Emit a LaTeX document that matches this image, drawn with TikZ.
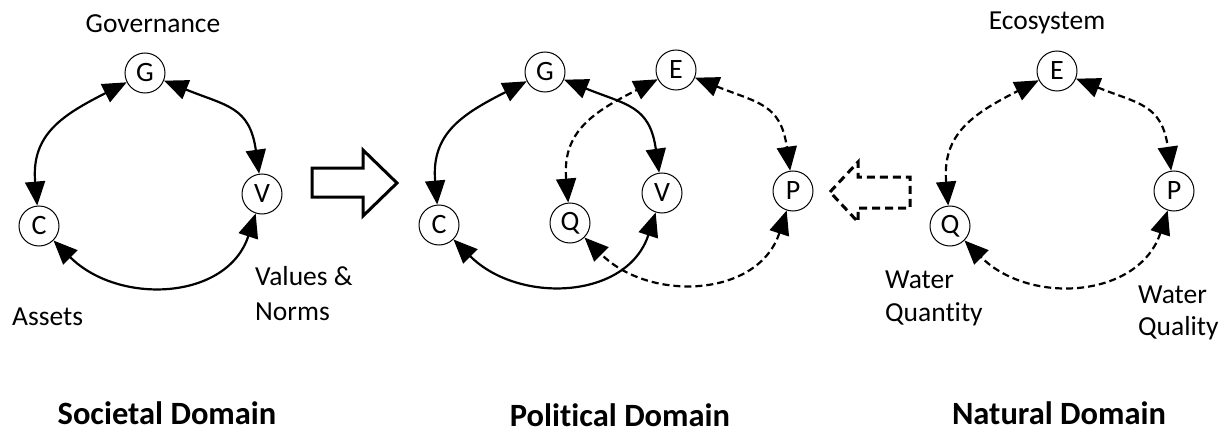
\documentclass[tikz,border=0pt]{standalone}
\usepackage{fontspec}
\setmainfont{Carlito}[Ligatures=NoCommon]
\usetikzlibrary{arrows.meta}
\begin{document}
\begin{tikzpicture}[x=1pt,y=1pt,
  every node/.style={font=\fontsize{27.5}{34}\selectfont},
  var/.style={circle,draw,line width=1pt,minimum size=40pt,inner sep=0pt,fill=white,font=\fontsize{28}{33}\selectfont},
  link/.style={{Triangle[length=24pt,width=20pt]}-{Triangle[length=24pt,width=20pt]},line width=2.2pt},
  dlink/.style={link,dash pattern=on 7pt off 4pt},
  gv/.style={out=-22,in=98,looseness=1.3},
  vc/.style={out=-108,in=-45,looseness=1.15},
  cg/.style={out=95,in=207,looseness=1.2},
  lbl/.style={align=left,anchor=base west,inner sep=0pt},
  title/.style={font=\bfseries\fontsize{32.5}{38}\selectfont,anchor=base,inner sep=0pt},
  blockarrow/.style={draw,line width=3pt,fill=white,line join=miter}]
\useasboundingbox (0,0) rectangle (1228,432);

% Societal domain
\node[var] (G1) at (145,359) {G};
\node[var] (V1) at (262,238) {V};
\node[var] (C1) at (39,206) {C};
\draw[link] (G1) to[gv] (V1);
\draw[link] (V1) to[vc] (C1);
\draw[link] (C1) to[cg] (G1);
\node[anchor=base,inner sep=0pt] (gov) at (153,399) {Governance};
\node[lbl,font=\fontsize{27.5}{35}\selectfont] (vn) at (255,112) {Values \&\\Norms};
\node[lbl] (as) at (12,107) {Assets};

% Political domain
\node[var] (G2) at (545,360) {G};
\node[var] (V2) at (662,239) {V};
\node[var] (C2) at (439,207) {C};
\node[var] (E2) at (676,362) {E};
\node[var] (P2) at (793,241) {P};
\node[var] (Q2) at (570,209) {Q};
\draw[link] (G2) to[gv] (V2);
\draw[link] (V2) to[vc] (C2);
\draw[link] (C2) to[cg] (G2);
\draw[dlink] (E2) to[gv] (P2);
\draw[dlink] (P2) to[vc] (Q2);
\draw[dlink] (Q2) to[cg] (E2);

% Natural domain
\node[var] (E3) at (1057,361) {E};
\node[var] (P3) at (1174,241) {P};
\node[var] (Q3) at (950,206) {Q};
\draw[dlink] (E3) to[gv] (P3);
\draw[dlink] (P3) to[vc] (Q3);
\draw[dlink] (Q3) to[cg] (E3);
\node[anchor=base,inner sep=0pt] (eco) at (1047,402) {Ecosystem};
\node[lbl,font=\fontsize{27.5}{33}\selectfont] (wqn) at (885,111) {Water\\Quantity};
\node[lbl,font=\fontsize{27.5}{32}\selectfont] (wql) at (1138,97) {Water\\Quality};

% Block arrows
\draw[blockarrow] (312,264) -- (363,264) -- (363,282) -- (397,249) -- (363,216) -- (363,235) -- (312,235) -- cycle;
\draw[blockarrow,dash pattern=on 8pt off 5pt] (830,240) -- (858,270) -- (858,255) -- (910,255) -- (910,224) -- (858,224) -- (858,210) -- cycle;

% Titles
\node[title] (t1) at (167,8) {Societal Domain};
\node[title] (t2) at (620,6) {Political Domain};
\node[title] (t3) at (1059,8) {Natural Domain};
\end{tikzpicture}
\end{document}
